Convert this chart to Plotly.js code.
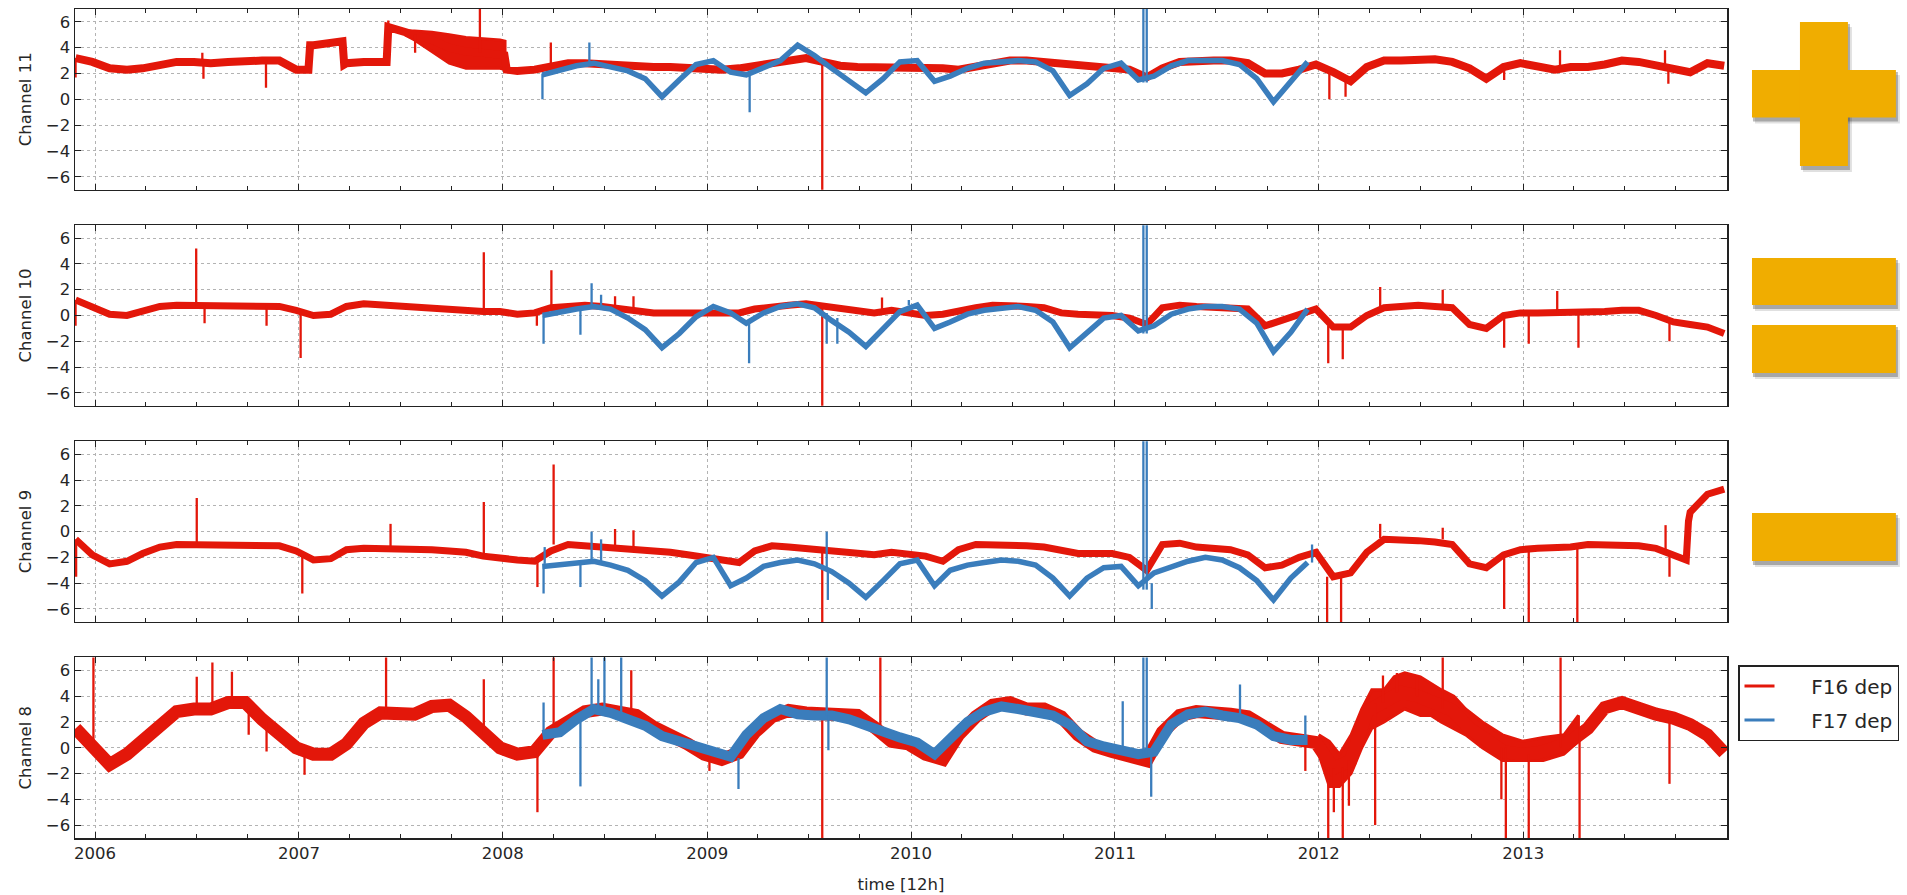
<!DOCTYPE html>
<html><head><meta charset="utf-8">
<script src="https://cdn.plot.ly/plotly-3.0.1.min.js"></script>
<style>html,body{margin:0;padding:0;background:#fff}#chart{width:1907px;height:895px}</style>
</head><body><div id="chart"></div>
<script>
// ---------------- data ----------------
const channels = ['Channel 11', 'Channel 10', 'Channel 9', 'Channel 8'];
const seriesNames = ['F16 dep', 'F17 dep'];
const xTitle = 'time [12h]';
const yearTicks = ['2006-01-01', '2007-01-01', '2008-01-01', '2009-01-01', '2010-01-01', '2011-01-01', '2012-01-01', '2013-01-01'];
const yearLabels = ['2006', '2007', '2008', '2009', '2010', '2011', '2012', '2013'];

// F16: one value per month (27th), Nov 2005 .. Dec 2013 (98 values)
const f16Start = [2005, 11, 27], f16Count = 98;
// F17: one value per month (12th), Mar 2008 .. Dec 2011 (46 values)
const f17Start = [2008, 3, 12], f17Count = 46;

const f16_ch11 = [3.2, 2.9,
  2.4, 2.3, 2.4, 2.7, 2.9, 2.9, 2.8, 2.9, 3.0, 3.0, 3.0, 2.3,
  4.2, 4.4, 2.8, 2.9, 2.9, 5.4, 5.0, 4.6, 4.0, 3.7, 3.6, 3.5,
  2.2, 2.3, 2.5, 2.8, 2.8, 2.7, 2.7, 2.6, 2.5, 2.5, 2.4, 2.3,
  2.3, 2.4, 2.6, 2.8, 3.0, 3.2, 2.9, 2.6, 2.5, 2.5, 2.5, 2.4,
  2.5, 2.4, 2.3, 2.5, 2.8, 3.0, 3.0, 2.9, 2.8, 2.6, 2.5, 2.4,
  2.3, 1.7, 2.4, 2.9, 3.0, 3.0, 3.0, 2.8, 2.0, 2.0, 2.3, 2.7,
  2.1, 1.4, 2.5, 3.0, 3.0, 3.1, 3.1, 2.9, 2.4, 1.6, 2.5, 2.8,
  2.5, 2.3, 2.5, 2.5, 2.7, 3.0, 2.9, 2.6, 2.4, 2.1, 2.8, 2.6];
const f17_ch11 = [1.9, 2.3, 2.6, 2.8, 2.5, 2.2, 1.6, 0.2, 1.5, 2.7,
  3.0, 2.1, 1.9, 2.5, 3.0, 4.2, 3.4, 2.4, 1.4, 0.5, 1.6, 2.9,
  3.0, 1.4, 1.8, 2.4, 2.8, 2.9, 3.0, 2.9, 2.2, 0.3, 1.2, 2.4,
  2.8, 1.5, 1.8, 2.6, 3.0, 3.0, 3.0, 2.7, 1.6, -0.2, 1.3, 2.9];

const f16_ch10 = [1.2, 0.7,
  0.1, 0.0, 0.3, 0.7, 0.8, 0.8, 0.8, 0.8, 0.8, 0.8, 0.7, 0.4,
  0.0, 0.1, 0.7, 0.9, 0.8, 0.8, 0.7, 0.6, 0.5, 0.4, 0.3, 0.3,
  0.1, 0.2, 0.6, 0.7, 0.8, 0.7, 0.5, 0.3, 0.2, 0.2, 0.2, 0.2,
  0.2, 0.2, 0.5, 0.7, 0.8, 0.9, 0.7, 0.5, 0.3, 0.2, 0.4, 0.2,
  0.0, 0.1, 0.4, 0.6, 0.8, 0.8, 0.7, 0.6, 0.2, 0.1, 0.1, 0.0,
  -0.2, -0.7, 0.6, 0.8, 0.7, 0.6, 0.6, 0.5, -0.8, -0.4, 0.1, 0.5,
  -0.9, -0.9, 0.0, 0.6, 0.7, 0.8, 0.7, 0.6, -0.7, -1.0, 0.0, 0.2,
  0.2, 0.2, 0.2, 0.3, 0.3, 0.4, 0.4, 0.0, -0.5, -0.7, -0.9, -1.4];
const f17_ch10 = [0.0, 0.3, 0.5, 0.7, 0.5, -0.2, -1.1, -2.5, -1.4, -0.1,
  0.7, 0.2, -0.6, 0.2, 0.7, 0.9, 0.6, -0.4, -1.3, -2.4, -1.0, 0.3,
  0.8, -1.0, -0.5, 0.1, 0.4, 0.6, 0.7, 0.4, -0.5, -2.5, -1.3, -0.2,
  0.0, -1.2, -0.8, 0.1, 0.5, 0.7, 0.7, 0.5, -0.6, -2.8, -1.3, 0.5];

const f16_ch9 = [-0.6, -1.8,
  -2.5, -2.3, -1.7, -1.2, -1.0, -1.0, -1.0, -1.0, -1.1, -1.0, -1.1, -1.5,
  -2.2, -2.1, -1.4, -1.3, -1.3, -1.4, -1.4, -1.4, -1.5, -1.6, -1.9, -2.1,
  -2.2, -2.3, -1.5, -1.0, -1.1, -1.2, -1.2, -1.3, -1.5, -1.6, -1.8, -2.0,
  -2.3, -2.4, -1.5, -1.1, -1.2, -1.3, -1.4, -1.5, -1.6, -1.8, -1.6, -1.8,
  -1.9, -2.3, -1.4, -1.0, -1.0, -1.0, -1.1, -1.2, -1.5, -1.7, -1.7, -1.7,
  -2.0, -3.0, -1.0, -0.9, -1.2, -1.3, -1.4, -1.8, -2.8, -2.6, -2.0, -1.6,
  -3.5, -3.2, -1.6, -0.6, -0.6, -0.7, -0.8, -1.0, -2.5, -2.8, -1.8, -1.4,
  -1.3, -1.3, -1.2, -1.0, -1.0, -1.0, -1.1, -1.3, -1.8, 1.5, 2.9, 3.3];
const f17_ch9 = [-2.7, -2.6, -2.4, -2.3, -2.6, -3.0, -3.8, -5.0, -3.9, -2.4,
  -2.0, -4.2, -3.6, -2.7, -2.4, -2.2, -2.5, -3.1, -4.0, -5.1, -3.8, -2.5,
  -2.2, -4.2, -3.0, -2.6, -2.4, -2.2, -2.3, -2.6, -3.6, -5.0, -3.6, -2.8,
  -2.7, -4.2, -3.2, -2.7, -2.3, -2.0, -2.2, -2.8, -3.8, -5.3, -3.6, -2.4];

const f16_ch8 = [1.5, 0.2,
  -1.3, -0.5, 0.5, 1.8, 2.8, 3.0, 3.0, 3.5, 3.5, 2.2, 1.2, 0.0,
  -0.5, -0.5, 0.3, 1.9, 2.7, 2.7, 2.6, 3.2, 3.3, 2.4, 1.2, 0.0,
  -0.5, -0.3, 1.2, 2.1, 2.8, 3.0, 2.7, 2.5, 1.6, 1.0, 0.3, -0.5,
  -0.9, -0.4, 1.2, 2.4, 2.9, 2.7, 2.6, 2.6, 2.5, 1.6, 0.5, 0.3,
  -0.5, -0.9, 1.0, 2.4, 3.3, 3.5, 3.0, 3.0, 2.4, 1.0, 0.1, -0.3,
  -0.6, -1.0, 1.2, 2.5, 2.8, 2.8, 2.6, 2.4, 1.6, 0.8, 0.6, 0.4,
  -1.6, -1.0, 2.8, 3.5, 4.3, 4.0, 3.4, 2.9, 1.5, 0.5, -0.3, -0.5,
  -0.4, 0.0, 0.5, 1.5, 3.1, 3.5, 3.0, 2.6, 2.3, 1.8, 1.0, -0.4];
const f17_ch8 = [1.0, 1.2, 2.2, 3.0, 2.7, 2.2, 1.7, 0.9, 0.5, 0.0,
  -0.3, -0.7, 1.0, 2.3, 3.0, 2.6, 2.5, 2.5, 2.2, 1.7, 1.1, 0.8,
  0.4, -0.5, 0.7, 2.0, 2.8, 3.2, 3.0, 2.8, 2.5, 1.8, 0.5, 0.1,
  -0.2, -0.5, -0.3, 1.8, 2.6, 2.8, 2.5, 2.3, 1.8, 0.9, 0.6, 0.6];

// extra (date, value) points marking sudden level jumps
const f16_ch11_jumps = [['2007-01-18', 2.3], ['2007-01-21', 4.2], ['2007-03-20', 4.5], ['2007-03-23', 2.7],
  ['2007-06-07', 2.9], ['2007-06-10', 5.6], ['2008-01-04', 3.4], ['2008-01-08', 2.3]];
const f16_ch9_jumps = [['2013-10-20', -2.2], ['2013-10-24', 0.8]];

// noisy spread (lower / upper edge) of F16 where the scatter is wide
const f16_ch11_bandDates = ['2007-07-10', '2007-07-27', '2007-08-27', '2007-09-27', '2007-10-27', '2007-11-27', '2007-12-27', '2008-01-05'];
const f16_ch11_bandLow = [5.0, 4.6, 3.7, 2.8, 2.4, 2.4, 2.4, 2.3];
const f16_ch11_bandHigh = [5.3, 5.3, 5.2, 5.0, 4.8, 4.7, 4.6, 4.5];
const f16_ch8_bandDates = ['2012-01-01', '2012-01-20', '2012-02-07', '2012-02-28', '2012-03-18', '2012-04-05', '2012-04-27',
  '2012-05-15', '2012-06-03', '2012-07-01', '2012-07-20', '2012-08-07', '2012-08-30', '2012-09-20', '2012-10-20',
  '2012-11-25', '2012-12-31', '2013-02-06', '2013-03-15', '2013-04-10'];
const f16_ch8_bandLow = [-0.5, -3.0, -3.0, -2.0, 0.0, 1.5, 2.0, 2.5, 3.0, 2.5, 2.5, 2.0, 1.5, 1.0, 0.0, -1.0, -1.0, -1.0, -0.5, 0.5];
const f16_ch8_bandHigh = [1.0, 0.5, -0.5, 1.0, 3.0, 4.5, 4.5, 5.5, 5.8, 5.5, 5.0, 4.5, 4.0, 3.0, 2.0, 1.0, 0.5, 0.8, 1.0, 2.5];

// spikes: [date, level, spike tip]
const f16_ch11_spikes = [['2005-11-27', 3.2, 1.7], ['2006-07-12', 2.9, 3.6], ['2006-07-14', 2.9, 1.6], ['2006-11-03', 3.0, 0.9],
  ['2007-06-10', 5.4, 6.1], ['2007-07-28', 5.0, 3.6], ['2007-11-21', 3.6, 7.5], ['2008-03-27', 2.5, 4.4],
  ['2009-07-26', 2.9, -7.5], ['2012-01-20', 2.2, 0.0], ['2012-02-18', 1.5, 0.2], ['2013-03-08', 2.4, 3.8],
  ['2013-09-12', 2.5, 3.8], ['2013-09-18', 2.5, 1.2], ['2012-11-28', 2.5, 1.5]];
const f17_ch11_spikes = [['2008-03-12', 2.0, 0.0], ['2008-06-04', 2.8, 4.4], ['2009-03-18', 1.8, -1.0],
  ['2011-02-21', 1.3, 7.5], ['2011-02-27', 1.3, 7.5]];

const f16_ch10_spikes = [['2005-11-27', 1.2, -0.8], ['2006-07-01', 0.8, 5.2], ['2006-07-16', 0.8, -0.6], ['2006-11-04', 0.8, -0.8],
  ['2007-01-04', 0.2, -3.3], ['2007-11-28', 0.3, 4.9], ['2008-03-02', 0.3, -0.8], ['2008-03-28', 0.6, 3.5],
  ['2008-07-20', 0.5, 1.5], ['2008-08-22', 0.3, 1.5], ['2009-07-26', 0.7, -7.5], ['2009-11-10', 0.4, 1.4],
  ['2012-01-18', -0.8, -3.7], ['2012-02-13', -1.0, -3.4], ['2012-04-20', 0.5, 2.2], ['2012-08-10', 0.6, 2.0],
  ['2012-11-28', 0.0, -2.5], ['2013-01-11', 0.2, -2.2], ['2013-03-03', 0.2, 1.9], ['2013-04-10', 0.3, -2.5],
  ['2013-09-20', -0.5, -2.0]];
const f17_ch10_spikes = [['2008-03-14', 0.0, -2.2], ['2008-05-19', 0.5, -1.5], ['2008-06-08', 0.6, 2.5], ['2008-06-25', 0.7, 1.6],
  ['2009-03-17', -0.5, -3.7], ['2009-08-03', 0.2, -2.2], ['2009-08-22', -0.2, -2.2], ['2009-12-28', 0.8, 1.2],
  ['2011-02-21', -1.4, 7.5], ['2011-02-27', -1.4, 7.5]];

const f16_ch9_spikes = [['2005-11-28', -0.6, -3.5], ['2006-07-02', -1.0, 2.6], ['2007-01-07', -1.8, -4.8], ['2007-06-14', -1.4, 0.6],
  ['2007-11-28', -1.9, 2.3], ['2008-03-03', -2.0, -4.3], ['2008-04-01', -1.0, 5.2], ['2008-07-20', -1.2, 0.2],
  ['2008-08-22', -1.2, 0.1], ['2009-07-26', -1.4, -7.5], ['2012-01-16', -3.5, -7.5], ['2012-02-10', -3.5, -7.5],
  ['2012-04-20', -0.5, 0.6], ['2012-08-10', -0.6, 0.3], ['2012-11-28', -2.0, -6.0], ['2013-01-11', -1.5, -7.5],
  ['2013-04-08', -1.0, -7.5], ['2013-09-13', -1.6, 0.5], ['2013-09-20', -1.6, -3.5]];
const f17_ch9_spikes = [['2008-03-14', -2.5, -4.8], ['2008-03-16', -2.5, -1.2], ['2008-05-19', -2.4, -4.3], ['2008-06-08', -2.3, 0.0],
  ['2008-06-25', -2.3, -0.6], ['2009-08-03', -3.0, 0.0], ['2009-08-05', -3.0, -5.3],
  ['2011-02-21', -4.5, 7.5], ['2011-02-27', -4.5, 7.5], ['2011-03-08', -4.0, -6.0], ['2011-12-20', -2.4, -1.0]];

const f16_ch8_spikes = [['2005-12-29', 0.2, 7.5], ['2006-07-02', 3.0, 5.5], ['2006-07-30', 3.0, 6.6], ['2006-09-03', 3.5, 5.9],
  ['2006-10-03', 3.2, 1.0], ['2006-11-04', 2.0, -0.3], ['2007-01-11', -0.5, -2.1], ['2007-06-06', 2.7, 7.5],
  ['2007-11-28', 1.0, 5.3], ['2008-03-03', 0.5, -5.0], ['2008-04-01', 1.5, 7.5], ['2008-08-18', 2.5, 6.0],
  ['2009-01-05', -0.5, -1.8], ['2009-07-26', 2.6, -7.5], ['2009-11-07', 1.6, 7.5], ['2011-12-08', 0.5, -1.8],
  ['2012-01-18', -1.5, -7.5], ['2012-02-13', -1.5, -7.5], ['2012-01-28', -1.6, -5.0], ['2012-02-24', -1.0, -4.5],
  ['2012-04-11', 3.4, -6.0], ['2012-04-25', 3.5, 5.6], ['2012-05-20', 4.3, 5.8], ['2012-06-25', 4.0, 5.5],
  ['2012-08-10', 3.0, 7.5], ['2012-11-23', 0.0, -4.0], ['2012-12-01', 0.0, -7.5], ['2013-01-11', -0.5, -7.5],
  ['2013-03-09', 0.0, 7.5], ['2013-04-12', 1.5, -7.5], ['2013-09-20', 2.3, -2.8]];
const f17_ch8_spikes = [['2008-03-14', 1.0, 3.5], ['2008-05-19', 2.2, -3.0], ['2008-06-08', 2.8, 7.5], ['2008-06-20', 3.0, 5.3],
  ['2008-07-01', 3.0, 7.5], ['2008-07-31', 2.7, 7.5], ['2009-02-26', -0.8, -3.2], ['2009-08-03', 2.5, 7.5],
  ['2009-08-06', 2.5, -0.2], ['2011-01-15', 0.0, 3.6], ['2011-02-21', -0.5, 7.5], ['2011-02-27', -0.5, 7.5],
  ['2011-03-07', -0.5, -3.8], ['2011-08-13', 2.3, 4.9], ['2011-12-08', 0.6, 2.5]];

// ---------------- helpers ----------------
function monthlyDates(start, n) {
  const out = [];
  for (let i = 0; i < n; i++) {
    const mm = start[1] - 1 + i;
    const yy = start[0] + Math.floor(mm / 12);
    const mo = (mm % 12) + 1;
    out.push(yy + '-' + String(mo).padStart(2, '0') + '-' + String(start[2]).padStart(2, '0'));
  }
  return out;
}
function merged(dates, vals, extra) {
  const pts = dates.map((d, i) => [d, vals[i]]).concat(extra || []);
  pts.sort((a, b) => (a[0] < b[0] ? -1 : a[0] > b[0] ? 1 : 0));
  return {x: pts.map(p => p[0]), y: pts.map(p => p[1])};
}
function spikeXY(list) {
  const x = [], y = [];
  list.forEach(s => { x.push(s[0], s[0], null); y.push(s[1], s[2], null); });
  return {x, y};
}

const RED = '#e3170a', BLUE = '#3a7dbc';
const f16Dates = monthlyDates(f16Start, f16Count);
const f17Dates = monthlyDates(f17Start, f17Count);

const chData = [
  {f16: f16_ch11, f17: f17_ch11, j16: f16_ch11_jumps, s16: f16_ch11_spikes, s17: f17_ch11_spikes, w16: 8, w17: 5.5,
   band: [f16_ch11_bandDates, f16_ch11_bandLow, f16_ch11_bandHigh]},
  {f16: f16_ch10, f17: f17_ch10, j16: [], s16: f16_ch10_spikes, s17: f17_ch10_spikes, w16: 7, w17: 5.5},
  {f16: f16_ch9, f17: f17_ch9, j16: f16_ch9_jumps, s16: f16_ch9_spikes, s17: f17_ch9_spikes, w16: 7, w17: 5.5},
  {f16: f16_ch8, f17: f17_ch8, j16: [], s16: f16_ch8_spikes, s17: f17_ch8_spikes, w16: 13, w17: 10,
   band: [f16_ch8_bandDates, f16_ch8_bandLow, f16_ch8_bandHigh]}
];

const traces = [];
chData.forEach((c, i) => {
  const n = 4 - i;
  const xa = n === 1 ? 'x' : 'x' + n, ya = n === 1 ? 'y' : 'y' + n;
  if (c.band) {
    const bx = c.band[0].concat(c.band[0].slice().reverse());
    const by = c.band[1].concat(c.band[2].slice().reverse());
    traces.push({type: 'scatter', mode: 'lines', x: bx, y: by, fill: 'toself', fillcolor: RED,
      line: {color: RED, width: 3}, xaxis: xa, yaxis: ya, showlegend: false, hoverinfo: 'skip'});
  }
  const a = merged(f16Dates, c.f16, c.j16);
  traces.push({type: 'scatter', mode: 'lines', x: a.x, y: a.y, xaxis: xa, yaxis: ya, showlegend: false,
    line: {color: RED, width: c.w16}, hoverinfo: 'skip'});
  const sa = spikeXY(c.s16);
  traces.push({type: 'scatter', mode: 'lines', x: sa.x, y: sa.y, xaxis: xa, yaxis: ya, showlegend: false,
    line: {color: RED, width: 2.3}, hoverinfo: 'skip'});
  const b = merged(f17Dates, c.f17, []);
  traces.push({type: 'scatter', mode: 'lines', x: b.x, y: b.y, xaxis: xa, yaxis: ya, showlegend: false,
    line: {color: BLUE, width: c.w17}, hoverinfo: 'skip'});
  const sb = spikeXY(c.s17);
  traces.push({type: 'scatter', mode: 'lines', x: sb.x, y: sb.y, xaxis: xa, yaxis: ya, showlegend: false,
    line: {color: BLUE, width: 2.3}, hoverinfo: 'skip'});
});
// legend entries
const NB = '\u00a0\u00a0\u00a0\u00a0\u00a0';
traces.push({type: 'scatter', mode: 'lines', x: [null], y: [null], name: NB + seriesNames[0], legendgroup: 'a',
  line: {color: RED, width: 3}, xaxis: 'x', yaxis: 'y'});
traces.push({type: 'scatter', mode: 'lines', x: [null], y: [null], name: NB + seriesNames[1], legendgroup: 'b',
  line: {color: BLUE, width: 3}, xaxis: 'x', yaxis: 'y'});

// ---------------- layout ----------------
const W = 1907, H = 895, ML = 75, MR = 179, MT = 9, MB = 57;
const PW = W - ML - MR, PH = H - MT - MB;
const px = v => (v - ML) / PW, py = v => (H - MB - v) / PH;

const AX = '#222222', GRID = '#b3b3b3', TXT = '#262626', FS = 16.5;
const domains = {1: [0, 0.2178], 2: [0.2607, 0.4785], 3: [0.5214, 0.7392], 4: [0.7821, 1]};

const layout = {
  width: W, height: H,
  margin: {l: ML, r: MR, t: MT, b: MB},
  paper_bgcolor: '#fff', plot_bgcolor: '#fff',
  font: {family: 'DejaVu Sans, sans-serif', size: FS, color: TXT},
  showlegend: true,
  legend: {x: px(1738), xanchor: 'left', y: py(665), yanchor: 'top', bordercolor: AX, borderwidth: 1.5,
    bgcolor: '#fff', font: {size: 20, color: TXT}, tracegroupgap: 5},
  shapes: [],
  hovermode: false
};
for (let n = 1; n <= 4; n++) {
  const xk = n === 1 ? 'xaxis' : 'xaxis' + n, yk = n === 1 ? 'yaxis' : 'yaxis' + n;
  const yref = n === 1 ? 'y' : 'y' + n;
  layout[xk] = {
    type: 'date', range: ['2005-11-26', '2014-01-01'], anchor: yref,
    tickmode: 'array', tickvals: yearTicks, ticktext: yearLabels, showticklabels: n === 1,
    ticks: 'inside', ticklen: 6, tickwidth: 1, tickcolor: AX,
    showline: true, linecolor: AX, linewidth: 1.5, mirror: 'ticks',
    showgrid: true, gridcolor: GRID, griddash: 'dot', gridwidth: 1, zeroline: false,
    minor: {tick0: '2006-01-01', dtick: 'M3', ticks: 'inside', ticklen: 4, tickcolor: AX, showgrid: false},
    tickfont: {size: FS, color: TXT}
  };
  if (n !== 1) layout[xk].matches = 'x';
  if (n === 1) layout[xk].title = {text: xTitle, font: {size: FS, color: TXT}, standoff: 16};
  layout[yk] = {
    domain: domains[n], anchor: n === 1 ? 'x' : 'x' + n, range: [-7, 7],
    tickvals: [-6, -4, -2, 0, 2, 4, 6],
    ticks: 'inside', ticklen: 6, tickwidth: 1, tickcolor: AX,
    showline: true, linecolor: AX, linewidth: 1.5, mirror: 'ticks',
    showgrid: true, gridcolor: GRID, griddash: 'dot', gridwidth: 1, zeroline: false,
    tickfont: {size: FS, color: TXT},
    title: {text: channels[4 - n], font: {size: FS, color: TXT}, standoff: 10}
  };
}

// orange +, =, − icons on the right
const ORANGE = '#f0ad00';
const iconRects = [
  [1753, 70, 1897, 117.5], [1801, 22, 1849, 166],
  [1753, 258, 1897, 305], [1753, 325, 1897, 373],
  [1753, 513, 1897, 561]
];
const shadow = [], face = [];
iconRects.forEach(r => {
  shadow.push({type: 'rect', xref: 'paper', yref: 'paper', x0: px(r[0] + 3), x1: px(r[2] + 4), y0: py(r[1] + 5), y1: py(r[3] + 6),
    fillcolor: 'rgba(0,0,0,0.12)', line: {width: 0}, layer: 'above'});
  shadow.push({type: 'rect', xref: 'paper', yref: 'paper', x0: px(r[0] + 1), x1: px(r[2] + 2), y0: py(r[1] + 2), y1: py(r[3] + 4),
    fillcolor: 'rgba(60,60,60,0.35)', line: {width: 0}, layer: 'above'});
  face.push({type: 'rect', xref: 'paper', yref: 'paper', x0: px(r[0]), x1: px(r[2]), y0: py(r[1]), y1: py(r[3]),
    fillcolor: ORANGE, line: {width: 0}, layer: 'above'});
});
layout.shapes = shadow.concat(face);

Plotly.newPlot('chart', traces, layout, {displayModeBar: false, staticPlot: true});
</script>
</body></html>
